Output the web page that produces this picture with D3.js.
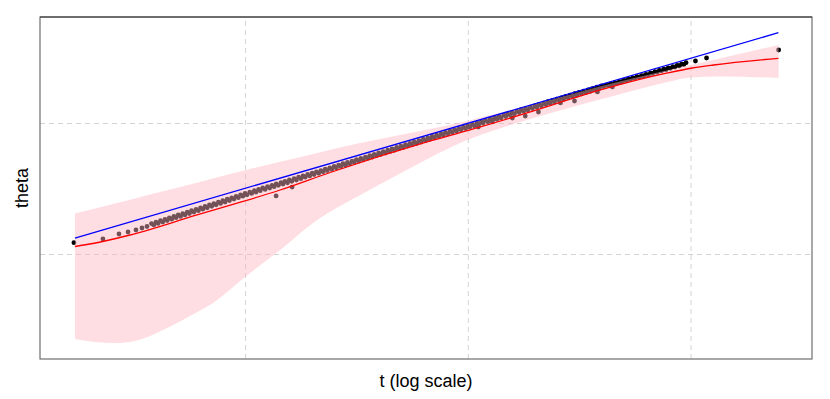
<!DOCTYPE html>
<html><head><meta charset="utf-8">
<script src="https://cdn.jsdelivr.net/npm/d3@7"></script>
<style>html,body{margin:0;padding:0;background:#fff;} svg{display:block;}</style>
</head><body><svg id="chart" width="830" height="399"></svg>
<script>
// ---- data (t on log scale, theta) ----
const earlyT     = [1.704, 2.300, 2.715, 2.981, 3.236, 3.444, 3.627];
const earlyTheta = [0.0863, 0.1145, 0.1527, 0.1679, 0.1832, 0.1985, 0.2099];

const clusterT = [3.80,3.98,4.17,4.37,4.57,4.79,5.01,5.25,5.50,5.75,6.03,6.31,6.61,6.92,7.24,7.59,7.94,8.32,8.71,9.12,9.55,
 10.0,10.5,11.0,11.5,12.0,12.6,13.2,13.8,14.5,15.1,15.8,16.6,17.4,18.2,19.1,20.0,20.9,21.9,22.9,24.0,25.1,26.3,27.5,28.8,
 30.2,31.6,33.1,34.7,36.3,38.0,39.8,41.7,43.7,45.7,47.9,50.1,52.5,55.0,57.5,60.3,63.1,66.1,69.2,72.4,75.9,79.4,83.2,87.1,91.2,95.5,
 100,105,110,115,120,126,132,138,145,151,158,166,174,182,191,200,209,219,229,240,251,263,275,288,302,316,331,347,363,380,398,
 417,437,457,479,501,525,550,575,603,631,661,692,724,759,794,832,871,912,955];
const clusterTheta = [0.232,0.243,0.254,0.265,0.276,0.287,0.298,0.308,0.319,0.330,0.341,0.352,0.363,0.374,0.385,0.396,0.407,0.418,0.429,0.440,0.451,
 0.462,0.473,0.483,0.494,0.504,0.514,0.524,0.535,0.545,0.555,0.565,0.576,0.586,0.596,0.607,0.617,0.627,0.637,0.648,0.658,0.668,0.678,0.689,0.699,
 0.709,0.720,0.730,0.740,0.751,0.761,0.772,0.782,0.792,0.803,0.813,0.824,0.834,0.845,0.855,0.865,0.876,0.886,0.897,0.907,0.917,0.928,0.938,0.948,0.959,0.969,
 0.979,0.989,0.999,1.009,1.020,1.030,1.040,1.050,1.060,1.070,1.081,1.091,1.101,1.111,1.121,1.131,1.142,1.152,1.162,1.172,1.182,1.192,1.202,1.213,1.223,1.233,1.243,1.253,1.263,1.273,1.284,
 1.289,1.298,1.307,1.316,1.326,1.335,1.344,1.353,1.362,1.371,1.381,1.391,1.401,1.410,1.420,1.430,1.440,1.450,1.460];

const cluster2T = [3.89,4.07,4.27,4.47,4.68,4.90,5.13,5.37,5.62,5.89,6.17,6.46,6.76,7.08,7.41,7.76,8.13,8.51,8.91,9.33,9.77,
 10.2,10.7,11.2,11.7,12.3,12.9,13.5,14.1,14.8,15.5,16.2,17.0,17.8,18.6,19.5,20.4,21.4,22.4,23.4,24.5,25.7,26.9,28.2,29.5,
 30.9,32.4,33.9,35.5,37.2,38.9,40.7,42.7,44.7,46.8,49.0,51.3,53.7,56.2,58.9,61.7,64.6,67.6,70.8,74.1,77.6,81.3,85.1,89.1,93.3,97.7,
 102,107,112,117,123,129,135,141,148,155,162,170,178,186,195,204,214,224,234,245,257,269,282,295,309,324,339,355,372,389,
 407,427,447,468,490,513,537,562,589,617,646,676,708,741,776,813,851,891,933];
const cluster2Theta = [0.222,0.233,0.244,0.255,0.266,0.277,0.287,0.298,0.309,0.320,0.331,0.342,0.353,0.364,0.375,0.386,0.397,0.408,0.419,0.430,0.441,
 0.452,0.462,0.473,0.483,0.493,0.503,0.514,0.524,0.534,0.544,0.555,0.565,0.575,0.586,0.596,0.606,0.616,0.627,0.637,0.647,0.657,0.668,0.678,0.688,
 0.699,0.709,0.719,0.730,0.740,0.751,0.761,0.771,0.782,0.792,0.803,0.813,0.824,0.834,0.844,0.855,0.865,0.876,0.886,0.896,0.907,0.917,0.927,0.938,0.948,0.958,
 0.968,0.978,0.988,0.999,1.009,1.019,1.029,1.039,1.049,1.060,1.070,1.080,1.090,1.100,1.110,1.121,1.131,1.141,1.151,1.161,1.171,1.181,1.192,1.202,1.212,1.222,1.232,1.242,1.252,1.263,
 1.277,1.286,1.295,1.304,1.313,1.323,1.332,1.341,1.350,1.359,1.368,1.378,1.388,1.398,1.407,1.417,1.427,1.437,1.447];

const outlierT     = [13.78, 16.26, 111.4, 128.8, 158.5, 181.1, 207.5, 260.6, 301.3, 382, 445.7];
const outlierTheta = [0.443, 0.511, 0.969, 1.008, 1.038, 1.053, 1.084, 1.153, 1.168, 1.237, 1.275];

const tailT     = [1052, 1180, 2486];
const tailTheta = [1.473, 1.496, 1.557];

// fitted curve (red)
const fitT     = [1.722, 2.075, 3.042, 6.085, 9.795, 14.37, 24.1, 67.83, 113.8, 190.9, 393.9, 788.0, 1021, 1269, 2480];
const fitTheta = [0.0573, 0.0802, 0.1450, 0.2977, 0.4008, 0.4885, 0.6221, 0.8626, 0.9695, 1.0840, 1.2519, 1.3817, 1.4198, 1.4427, 1.4939];

// reference line (blue)
const refT     = [1.722, 2480];
const refTheta = [0.122, 1.689];

// confidence band (pink)
const bandT     = [1.722, 2.118, 2.604, 3.203, 4.281, 5.658, 7.181, 10, 14.37, 21.07, 32.88, 48.21, 67.83, 95.45, 113.8, 190.9, 227.7, 450.7, 788.0, 1000, 1364, 2486];
const bandUpper = [0.3092, 0.3473, 0.3863, 0.4244, 0.4786, 0.5313, 0.5763, 0.6389, 0.7038, 0.7718, 0.8473, 0.9038, 0.9542, 1.0092, 1.0420, 1.1374, 1.1718, 1.3061, 1.4023, 1.4420, 1.4947, 1.5954];
const bandLower = [-0.6489, -0.6718, -0.6794, -0.6641, -0.5802, -0.4733, -0.3740, -0.1756, 0.0305, 0.2595, 0.4504, 0.6031, 0.7366, 0.8588, 0.9084, 1.0305, 1.0687, 1.2061, 1.3130, 1.3473, 1.3550, 1.3435];

const xGridT = [10, 100, 1000];
const yGridTheta = [0, 1];
const xDomain = [1.2, 3510];
const yDomain = [-0.8015, 1.809];

// ---- drawing ----
const W = 830, H = 399;
const m = {l: 40, r: 18, t: 17, b: 40};
const svg = d3.select('#chart');
const x = d3.scaleLog().domain(xDomain).range([m.l, W - m.r]);
const y = d3.scaleLinear().domain(yDomain).range([H - m.b, m.t]);

// gridlines
svg.append('g').attr('transform', `translate(0,${H - m.b})`)
  .call(d3.axisBottom(x).tickValues(xGridT).tickSize(-(H - m.t - m.b)).tickFormat(''))
  .call(g => g.select('.domain').remove())
  .selectAll('line').attr('stroke', '#d3d3d3').attr('stroke-width', 1).attr('stroke-dasharray', '5,4');
svg.append('g').attr('transform', `translate(${m.l},0)`)
  .call(d3.axisLeft(y).tickValues(yGridTheta).tickSize(-(W - m.l - m.r)).tickFormat(''))
  .call(g => g.select('.domain').remove())
  .selectAll('line').attr('stroke', '#d3d3d3').attr('stroke-width', 1).attr('stroke-dasharray', '5,4');

// points
const allT = earlyT.concat(clusterT, cluster2T, outlierT, tailT);
const allTheta = earlyTheta.concat(clusterTheta, cluster2Theta, outlierTheta, tailTheta);
svg.append('g').selectAll('circle').data(d3.range(allT.length)).join('circle')
  .attr('cx', i => x(allT[i])).attr('cy', i => y(allTheta[i])).attr('r', 2.4)
  .attr('fill', '#000');

// band
const area = d3.area().x(i => x(bandT[i])).y0(i => y(bandLower[i])).y1(i => y(bandUpper[i])).curve(d3.curveMonotoneX);
svg.append('path').datum(d3.range(bandT.length)).attr('d', area)
  .attr('fill', '#ffb6c1').attr('fill-opacity', 0.45);

// fit line
const fitLine = d3.line().x(i => x(fitT[i])).y(i => y(fitTheta[i])).curve(d3.curveMonotoneX);
svg.append('path').datum(d3.range(fitT.length)).attr('d', fitLine)
  .attr('fill', 'none').attr('stroke', '#ff0000').attr('stroke-width', 1.3);

// reference line
const refLine = d3.line().x(i => x(refT[i])).y(i => y(refTheta[i]));
svg.append('path').datum(d3.range(refT.length)).attr('d', refLine)
  .attr('fill', 'none').attr('stroke', '#0000ff').attr('stroke-width', 1.3);

// frame
svg.append('rect').attr('x', m.l).attr('y', m.t).attr('width', W - m.l - m.r).attr('height', H - m.t - m.b)
  .attr('fill', 'none').attr('stroke', '#6e6e6e').attr('stroke-width', 1.2);
svg.append('line').attr('x1', m.l).attr('x2', W - m.r).attr('y1', m.t).attr('y2', m.t)
  .attr('stroke', '#333').attr('stroke-width', 1);

// labels
svg.append('text').attr('x', (m.l + W - m.r) / 2).attr('y', 387).attr('text-anchor', 'middle')
  .attr('font-family', 'Liberation Sans, Arial, sans-serif').attr('font-size', 18).attr('fill', '#000')
  .text('t (log scale)');
svg.append('text').attr('transform', `translate(28,${(m.t + H - m.b) / 2}) rotate(-90)`).attr('text-anchor', 'middle')
  .attr('font-family', 'Liberation Sans, Arial, sans-serif').attr('font-size', 18).attr('fill', '#000')
  .text('theta');
</script>
</body></html>
